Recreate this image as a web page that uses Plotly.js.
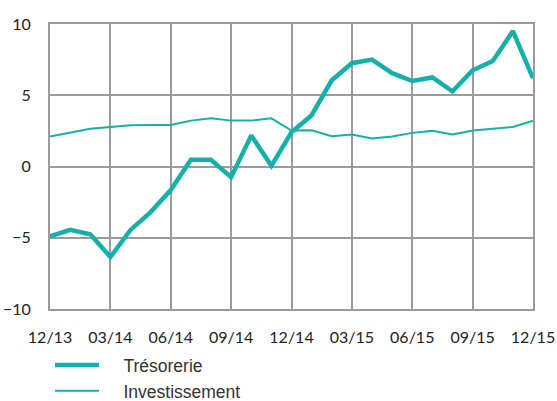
<!DOCTYPE html>
<html>
<head>
<meta charset="utf-8">
<script src="https://cdn.plot.ly/plotly-3.0.1.min.js"></script>
<style>html,body{margin:0;padding:0;background:#fff}</style>
</head>
<body>
<div id="chart" style="width:557px;height:401px"></div>
<script>
const months = ["12/13","01/14","02/14","03/14","04/14","05/14","06/14","07/14","08/14","09/14","10/14","11/14","12/14",
  "01/15","02/15","03/15","04/15","05/15","06/15","07/15","08/15","09/15","10/15","11/15","12/15"];
const tresorerie = [-4.9,-4.45,-4.75,-6.35,-4.45,-3.2,-1.65,0.47,0.47,-0.75,2.18,0.05,2.4,
  3.6,6.05,7.25,7.5,6.55,6.0,6.25,5.28,6.75,7.4,9.5,6.2];
const investissement = [2.1,2.4,2.65,2.78,2.9,2.92,2.92,3.22,3.38,3.22,3.22,3.38,2.52,
  2.54,2.12,2.24,1.96,2.1,2.36,2.5,2.24,2.52,2.64,2.78,3.22];
const tickLabels = ["12/13","03/14","06/14","09/14","12/14","03/15","06/15","09/15","12/15"];
const seriesNames = ["Trésorerie","Investissement"];

const teal = "#14b0a9";
const grid = "#9b9b9d";
const pad = "\u00A0\u00A0\u00A0\u00A0";
const data = [
  {x: months, y: tresorerie, type: "scatter", mode: "lines", name: pad + seriesNames[0],
   line: {color: teal, width: 4.5}},
  {x: months, y: investissement, type: "scatter", mode: "lines", name: pad + seriesNames[1],
   line: {color: teal, width: 2}}
];
const layout = {
  width: 557, height: 401,
  margin: {l: 50, r: 24, t: 24, b: 92, autoexpand: false},
  paper_bgcolor: "#fff", plot_bgcolor: "#fff",
  font: {family: "Lato, 'Open Sans', sans-serif", color: "#222", size: 16},
  showlegend: true,
  legend: {x: 0, xanchor: "left", y: -0.134, yanchor: "top", orientation: "v",
    font: {family: "'Liberation Sans', Arial, sans-serif", size: 17.5, color: "#333"},
    itemwidth: 44, tracegroupgap: 0, bgcolor: "rgba(0,0,0,0)"},
  xaxis: {type: "category", range: [0, 24], tickmode: "array", tickvals: tickLabels, ticktext: tickLabels,
    showgrid: true, gridcolor: grid, gridwidth: 2, showline: true, linecolor: grid, linewidth: 2, mirror: true,
    ticks: "", ticklabelstandoff: 13, zeroline: false, fixedrange: true},
  yaxis: {range: [-10, 10], dtick: 5, tickvals: [-10,-5,0,5,10],
    showgrid: true, gridcolor: grid, gridwidth: 2, showline: true, linecolor: grid, linewidth: 2, mirror: true,
    ticks: "", ticklabelstandoff: 14, zeroline: false, fixedrange: true}
};
Plotly.newPlot("chart", data, layout, {displayModeBar: false, staticPlot: true});
</script>
</body>
</html>
